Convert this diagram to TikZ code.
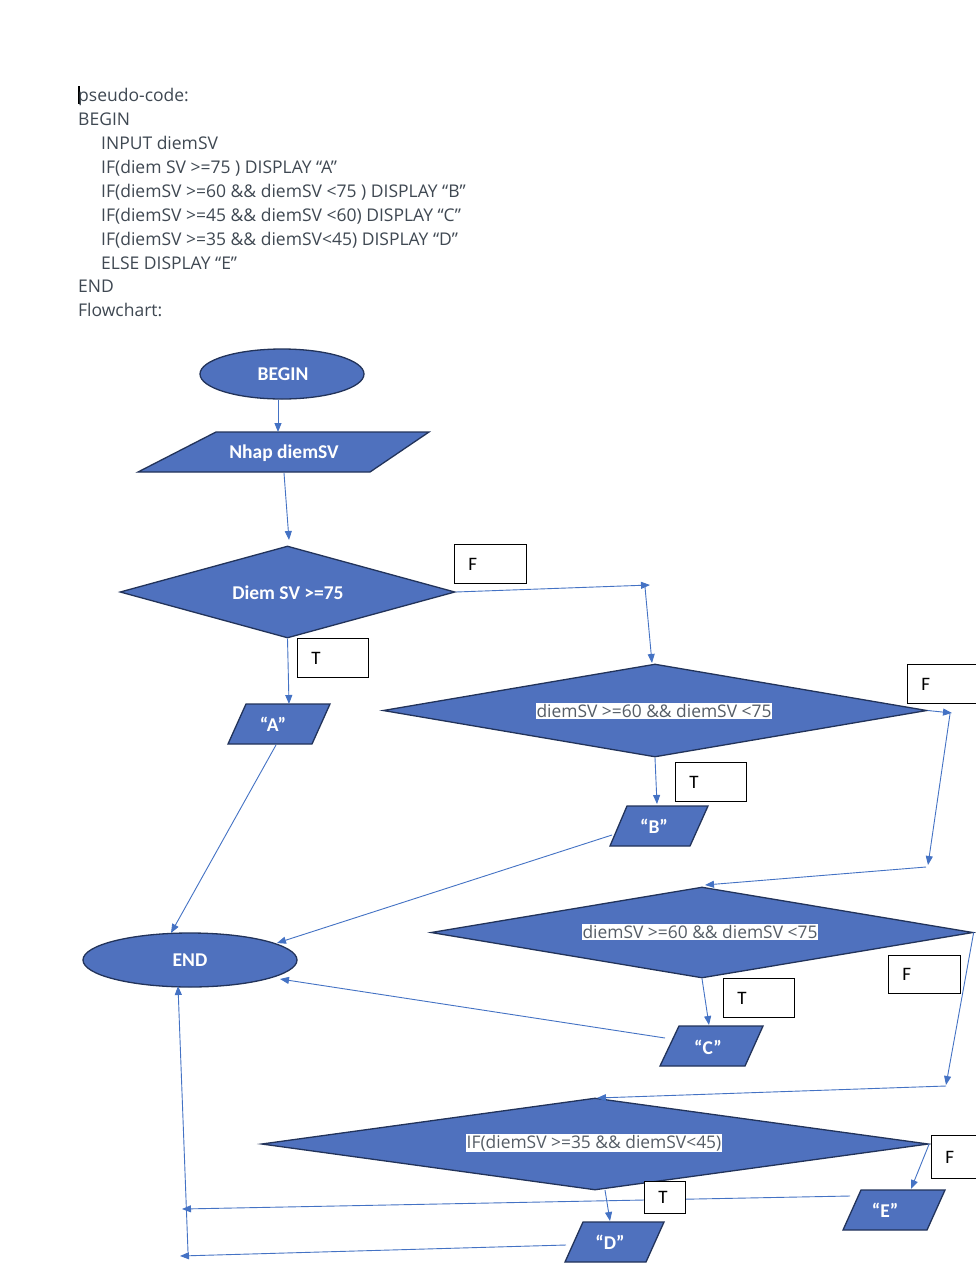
\documentclass[tikz,border=0pt]{standalone}
\usepackage{fontspec}
\setmainfont{Open Sans}
\newfontfamily\labelfont{Carlito}
\usetikzlibrary{shapes.geometric,arrows.meta}
\definecolor{boxblue}{HTML}{4F71BE}
\definecolor{boxedge}{HTML}{22335A}
\definecolor{linkblue}{HTML}{4472C4}
\definecolor{codegrey}{HTML}{3F4852}
\definecolor{condgrey}{HTML}{555D66}
\tikzset{
  flow/.style={fill=boxblue,draw=boxedge,line width=1.3pt,line join=miter},
  term/.style={flow,ellipse,inner sep=0pt},
  decision/.style={flow,diamond,inner sep=0pt},
  shapetext/.style={text=white,inner sep=0pt,font=\labelfont\bfseries\fontsize{19.5}{21}\selectfont},
  condtext/.style={fill=white,text=condgrey,inner sep=1pt,font=\fontsize{17.4}{20}\selectfont},
  codeline/.style={anchor=base west,inner sep=0pt,text=codegrey,font=\fontsize{17.5}{20}\selectfont},
  tag/.style={draw=black,line width=0.8pt,fill=white,anchor=north west,inner xsep=14pt,
    inner ysep=0pt,align=left,font=\labelfont\fontsize{19}{21}\selectfont},
  link/.style={draw=linkblue,line width=0.9pt,-{Triangle[length=9pt,width=7pt]}}
}
\begin{document}
\begin{tikzpicture}[x=1pt,y=-1pt]
\useasboundingbox[fill=white] (0,0) rectangle (976,1278);

% pseudo-code listing
\draw[black,line width=1.6pt] (79,86) -- (79,104);
\node[codeline] (code1) at (78,101) {pseudo-code:};
\node[codeline] (code2) at (78,125) {BEGIN};
\node[codeline] (code3) at (101,149) {INPUT diemSV};
\node[codeline] (code4) at (101,173) {IF(diem SV >=75 ) DISPLAY “A”};
\node[codeline] (code5) at (101,197) {IF(diemSV >=60 \&\& diemSV <75 ) DISPLAY “B”};
\node[codeline] (code6) at (101,221) {IF(diemSV >=45 \&\& diemSV <60) DISPLAY “C”};
\node[codeline] (code7) at (101,245) {IF(diemSV >=35 \&\& diemSV<45) DISPLAY “D”};
\node[codeline] (code8) at (101,269) {ELSE DISPLAY “E”};
\node[codeline] (code9) at (78,292) {END};
\node[codeline] (code10) at (78,316) {Flowchart:};

% terminals
\node[term,minimum width=164,minimum height=50] (begin) at (282,374) {};
\node[shapetext] (beginT) at (283,374) {BEGIN};
\node[term,minimum width=214,minimum height=54] (end) at (190,960) {};
\node[shapetext] (endT) at (190,960) {END};

% input
\draw[flow] (216,432) -- (429,432) -- (370,472) -- (138,472) -- cycle;
\node[shapetext] (input) at (284,453) {Nhap diemSV};

% decisions
\node[decision,minimum width=335,minimum height=92] (d1) at (287.5,592) {};
\node[shapetext] (d1T) at (288,593) {Diem SV >=75};
\node[decision,minimum width=544,minimum height=93] (d2) at (655,710.5) {};
\node[condtext] (d2T) at (654,711) {diemSV >=60 \&\& diemSV <75};
\node[decision,minimum width=542,minimum height=91] (d3) at (702,932.5) {};
\node[condtext] (d3T) at (700,932) {diemSV >=60 \&\& diemSV <75};
\node[decision,minimum width=667,minimum height=92] (d4) at (595,1144) {};
\node[condtext] (d4T) at (594,1143) {IF(diemSV >=35 \&\& diemSV<45)};

% outputs
\draw[flow] (246,704) -- (330,704) -- (312,744) -- (228,744) -- cycle;
\node[shapetext] (outA) at (273,724) {“A”};
\draw[flow] (627,806) -- (708,806) -- (690,846) -- (610,846) -- cycle;
\node[shapetext] (outB) at (654,826) {“B”};
\draw[flow] (679,1026) -- (763,1026) -- (745,1066) -- (660,1066) -- cycle;
\node[shapetext] (outC) at (708,1047) {“C”};
\draw[flow] (583,1222) -- (664,1222) -- (646,1262) -- (565,1262) -- cycle;
\node[shapetext] (outD) at (610,1242) {“D”};
\draw[flow] (861,1190) -- (945,1190) -- (927,1230) -- (843,1230) -- cycle;
\node[shapetext] (outE) at (885,1210) {“E”};

% connector end points
\coordinate (inTop) at (278,432);
\coordinate (inBot) at (284,473);
\coordinate (d1in) at (289,540);
\coordinate (j1) at (650,585);
\coordinate (j1b) at (645,587);
\coordinate (d2in) at (652,663);
\coordinate (aTop) at (289,704);
\coordinate (aOut) at (276,745);
\coordinate (endTop) at (171,933);
\coordinate (j2) at (952,713);
\coordinate (j2b) at (950,714);
\coordinate (j3) at (928,865);
\coordinate (j3b) at (926,867);
\coordinate (d3in) at (705,885);
\coordinate (bTop) at (657,804);
\coordinate (bOut) at (612,835);
\coordinate (endRight) at (277,943);
\coordinate (cTop) at (709,1025);
\coordinate (cOut) at (665,1038);
\coordinate (endLow) at (280,979);
\coordinate (j4) at (946,1085);
\coordinate (j4b) at (946,1086);
\coordinate (d4in) at (597,1098);
\coordinate (eTop) at (911,1189);
\coordinate (d4out) at (605,1190);
\coordinate (dTop) at (610,1221);
\coordinate (eOut) at (850,1196);
\coordinate (j5) at (182,1209);
\coordinate (dOut) at (566,1245);
\coordinate (j6) at (180,1256);
\coordinate (j6b) at (188,1252);
\coordinate (endBot) at (178,986);

% connectors
\draw[link] (begin.south -| inTop) -- (inTop);
\draw[link] (inBot) -- (d1in);
\draw[link] (d1.east) -- (j1);
\draw[link] (j1b) -- (d2in);
\draw[link] (d1.south) -- (aTop);
\draw[link] (aOut) -- (endTop);
\draw[link] (d2.east) -- (j2);
\draw[link] (j2b) -- (j3);
\draw[link] (j3b) -- (d3in);
\draw[link] (d2.south) -- (bTop);
\draw[link] (bOut) -- (endRight);
\draw[link] (d3.south) -- (cTop);
\draw[link] (cOut) -- (endLow);
\draw[link] (d3.east) -- (j4);
\draw[link] (j4b) -- (d4in);
\draw[link] (d4.east) -- (eTop);
\draw[link] (d4out) -- (dTop);
\draw[link] (eOut) -- (j5);
\draw[link] (dOut) -- (j6);
\draw[link] (j6b) -- (endBot);

% branch tags
\node[tag,minimum width=72,minimum height=39,text width=44] (f1) at (454,544) {F};
\node[tag,minimum width=71,minimum height=39,text width=43] (t1) at (297,638) {T};
\node[tag,minimum width=80,minimum height=39,text width=52] (f2) at (907,664) {F};
\node[tag,minimum width=71,minimum height=39,text width=43] (t2) at (675,762) {T};
\node[tag,minimum width=72,minimum height=38,text width=44] (f3) at (888,955) {F};
\node[tag,minimum width=71,minimum height=39,text width=43] (t3) at (723,978) {T};
\node[tag,minimum width=60,minimum height=43,text width=32] (f4) at (931,1135) {F};
\node[tag,minimum width=41,minimum height=32,text width=13] (t4) at (644,1181) {T};
\end{tikzpicture}
\end{document}
